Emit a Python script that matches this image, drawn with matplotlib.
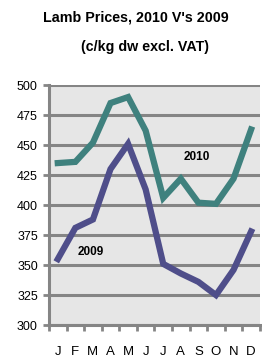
import numpy as np
import matplotlib
matplotlib.use('Agg')
import matplotlib.pyplot as plt

months = ['J', 'F', 'M', 'A', 'M', 'J', 'J', 'A', 'S', 'O', 'N', 'D']
prices_2009 = [355, 381, 388, 430, 451, 413, 351, 343, 336, 325, 346, 378]
prices_2010 = [435, 436, 452, 485, 490, 462, 406, 422, 402, 401, 422, 463]
y_ticks = [300, 325, 350, 375, 400, 425, 450, 475, 500]

plt.rcParams['font.family'] = ['Liberation Sans', 'DejaVu Sans']

fig = plt.figure(figsize=(2.62, 3.62), dpi=100)
ax = fig.add_axes([0.187, 0.102, 0.805, 0.663])
ax.set_facecolor('#e6e6e6')

x = np.arange(len(months))
ax.plot(x, prices_2010, color='#3f817e', lw=4.5, solid_joinstyle='miter', zorder=3)
ax.plot(x, prices_2009, color='#4f4e8a', lw=4.5, solid_joinstyle='miter', zorder=3)

ax.text(7.9, 440, '2010', fontsize=8.5, fontweight='bold', ha='center', va='center')
ax.text(1.9, 361, '2009', fontsize=8.5, fontweight='bold', ha='center', va='center')

ax.set_xlim(-0.5, 11.5)
ax.set_ylim(300, 500)
ax.set_yticks(y_ticks)
ax.yaxis.grid(True, color='#858585', lw=2.2)
ax.set_axisbelow(True)

ax.set_xticks(x)
ax.set_xticklabels(months, fontsize=9.5)
ax.set_xticks(np.arange(-0.5, 12, 1), minor=True)
ax.tick_params(axis='x', which='major', length=0, pad=15)
ax.tick_params(axis='x', which='minor', length=4, width=2, color='#858585')
ax.tick_params(axis='y', length=4, width=2, color='#858585', labelsize=9, pad=4)

for side in ['top', 'right']:
    ax.spines[side].set_visible(False)
for side in ['left', 'bottom']:
    ax.spines[side].set_color('#858585')
    ax.spines[side].set_linewidth(2.2)

fig.text(0.52, 0.953, "Lamb Prices, 2010 V's 2009", ha='center', va='center',
         fontsize=10.3, fontweight='bold')
fig.text(0.555, 0.87, "(c/kg dw excl. VAT)", ha='center', va='center',
         fontsize=10.3, fontweight='bold')

fig.savefig('out.png', dpi=100)
